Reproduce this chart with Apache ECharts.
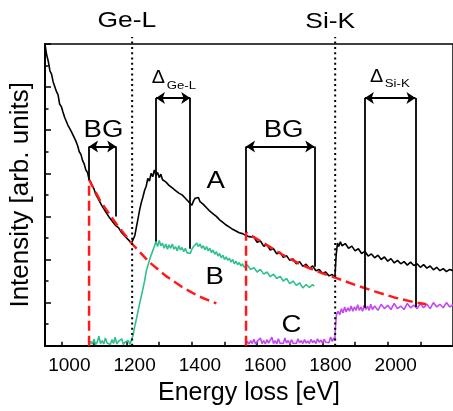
<!DOCTYPE html>
<html>
<head>
<meta charset="utf-8">
<script src="https://cdn.jsdelivr.net/npm/echarts@6/dist/echarts.min.js"></script>
<style>html,body{margin:0;padding:0;background:#fff;}#c{width:453px;height:411px;}</style>
</head>
<body>
<div id="c"></div>
<script>
// ---- data (energy loss [eV], intensity [arb. units]) ----
const xTickLabels = [1000, 1200, 1400, 1600, 1800, 2000];
const xMinorTicks = [1000, 1100, 1200, 1300, 1400, 1500, 1600, 1700, 1800, 1900, 2000, 2100];
const edgeGeL = 1217;
const edgeSiK = 1839;

const spectrumA = [[950,7.0],[955,6.75],[960,6.6],[965,6.38],[970,6.3],[975,6.12],[980,6.08],[985,5.9],[990,5.82],[995,5.6],[1000,5.55],[1005,5.42],[1010,5.3],[1015,5.28],[1020,5.12],[1025,5.1],[1030,4.98],[1035,4.96],[1040,4.82],[1045,4.74],[1050,4.64],[1055,4.5],[1060,4.44],[1065,4.3],[1070,4.22],[1075,4.08],[1080,4.02],[1085,3.86],[1090,3.8],[1095,3.7],[1100,3.64],[1105,3.52],[1110,3.5],[1115,3.38],[1120,3.35],[1125,3.24],[1130,3.22],[1135,3.12],[1140,3.1],[1145,3.0],[1150,3.0],[1155,2.9],[1160,2.92],[1165,2.8],[1170,2.84],[1175,2.74],[1180,2.72],[1185,2.62],[1190,2.64],[1195,2.54],[1200,2.55],[1205,2.46],[1210,2.46],[1215,2.38],[1220,2.42],[1225,2.55],[1230,2.75],[1235,2.95],[1240,3.15],[1245,3.32],[1250,3.45],[1255,3.6],[1260,3.7],[1265,3.88],[1270,3.82],[1275,4.0],[1280,3.92],[1285,4.08],[1290,3.95],[1295,4.02],[1300,3.9],[1305,3.98],[1310,3.85],[1315,3.88],[1320,3.8],[1325,3.84],[1330,3.72],[1335,3.76],[1340,3.66],[1345,3.7],[1350,3.6],[1355,3.64],[1360,3.54],[1365,3.58],[1370,3.5],[1375,3.52],[1380,3.42],[1385,3.44],[1390,3.34],[1395,3.3],[1400,3.26],[1405,3.36],[1410,3.42],[1415,3.38],[1420,3.44],[1425,3.34],[1430,3.38],[1435,3.28],[1440,3.3],[1445,3.2],[1450,3.24],[1455,3.12],[1460,3.16],[1465,3.06],[1470,3.1],[1475,3.0],[1480,3.02],[1485,2.92],[1490,2.96],[1495,2.86],[1500,2.88],[1505,2.8],[1510,2.83],[1515,2.75],[1520,2.78],[1525,2.7],[1530,2.74],[1535,2.66],[1540,2.7],[1545,2.62],[1550,2.66],[1555,2.6],[1560,2.63],[1565,2.56],[1570,2.6],[1575,2.53],[1580,2.5],[1590,2.52],[1600,2.4],[1610,2.43],[1620,2.31],[1630,2.34],[1640,2.22],[1650,2.25],[1660,2.13],[1670,2.17],[1680,2.05],[1690,2.09],[1700,1.98],[1710,2.01],[1720,1.9],[1730,1.95],[1740,1.84],[1750,1.89],[1760,1.79],[1770,1.85],[1780,1.74],[1790,1.77],[1800,1.68],[1810,1.71],[1820,1.62],[1830,1.65],[1838,1.57],[1842,2.1],[1846,2.38],[1850,2.3],[1855,2.41],[1860,2.32],[1870,2.37],[1880,2.26],[1890,2.31],[1900,2.2],[1910,2.25],[1920,2.14],[1930,2.19],[1940,2.08],[1950,2.13],[1960,2.04],[1970,2.1],[1980,2.0],[1990,2.06],[2000,1.96],[2010,2.02],[2020,1.92],[2030,1.98],[2040,1.9],[2050,1.95],[2060,1.87],[2070,1.94],[2080,1.86],[2090,1.9],[2100,1.82],[2110,1.88],[2120,1.8],[2130,1.85],[2140,1.76],[2150,1.82],[2160,1.74],[2170,1.79],[2180,1.72],[2190,1.77],[2200,1.74]];

const spectrumB = [[1085,0.02],[1090,0.1],[1095,0.04],[1100,0.15],[1105,0.03],[1110,0.08],[1115,0.22],[1120,0.05],[1125,0.12],[1130,0.04],[1135,0.18],[1140,0.06],[1145,0.1],[1150,0.03],[1155,0.14],[1160,0.05],[1165,0.2],[1170,0.04],[1175,0.1],[1180,0.06],[1185,0.16],[1190,0.03],[1195,0.08],[1200,0.04],[1205,0.12],[1210,0.03],[1215,0.05],[1220,0.25],[1225,0.45],[1230,0.62],[1235,0.8],[1240,0.98],[1245,1.15],[1250,1.32],[1255,1.5],[1260,1.72],[1265,1.85],[1270,1.98],[1275,2.1],[1280,2.2],[1285,2.3],[1290,2.42],[1295,2.3],[1300,2.44],[1305,2.32],[1310,2.38],[1315,2.26],[1320,2.36],[1325,2.24],[1330,2.34],[1335,2.26],[1340,2.36],[1345,2.24],[1350,2.3],[1355,2.2],[1360,2.32],[1365,2.22],[1370,2.28],[1375,2.18],[1380,2.26],[1385,2.16],[1390,2.2],[1395,2.14],[1400,2.24],[1405,2.3],[1410,2.26],[1415,2.38],[1420,2.3],[1425,2.36],[1430,2.26],[1435,2.32],[1440,2.22],[1445,2.3],[1450,2.2],[1455,2.26],[1460,2.16],[1465,2.22],[1470,2.12],[1475,2.18],[1480,2.08],[1485,2.14],[1490,2.04],[1495,2.1],[1500,2.0],[1505,2.06],[1510,1.98],[1515,2.03],[1520,1.94],[1525,2.0],[1530,1.9],[1535,1.96],[1540,1.88],[1545,1.93],[1550,1.85],[1555,1.9],[1560,1.82],[1570,1.87],[1580,1.77],[1590,1.81],[1600,1.71],[1610,1.77],[1620,1.66],[1630,1.71],[1640,1.6],[1650,1.66],[1660,1.56],[1670,1.61],[1680,1.5],[1690,1.56],[1700,1.44],[1710,1.5],[1720,1.4],[1730,1.46],[1740,1.34],[1750,1.42],[1760,1.35],[1770,1.42],[1775,1.38]];

const spectrumC = [[1566,0.03],[1570,0.1],[1575,0.04],[1580,0.12],[1585,0.05],[1590,0.15],[1595,0.04],[1600,0.1],[1605,0.06],[1610,0.18],[1615,0.05],[1620,0.12],[1625,0.04],[1630,0.14],[1635,0.06],[1640,0.1],[1645,0.2],[1650,0.05],[1655,0.12],[1660,0.04],[1665,0.16],[1670,0.06],[1675,0.1],[1680,0.05],[1685,0.18],[1690,0.06],[1695,0.12],[1700,0.04],[1705,0.14],[1710,0.06],[1715,0.1],[1720,0.05],[1725,0.16],[1730,0.07],[1735,0.12],[1740,0.05],[1745,0.14],[1750,0.06],[1755,0.11],[1760,0.05],[1765,0.15],[1770,0.07],[1775,0.12],[1780,0.05],[1785,0.16],[1790,0.08],[1795,0.13],[1800,0.06],[1805,0.15],[1810,0.08],[1815,0.12],[1820,0.07],[1825,0.2],[1830,0.1],[1835,0.18],[1838,0.12],[1840,0.45],[1843,0.72],[1848,0.8],[1853,0.72],[1858,0.86],[1863,0.76],[1868,0.9],[1873,0.78],[1878,0.88],[1883,0.8],[1888,0.92],[1893,0.8],[1898,0.9],[1903,0.82],[1908,0.95],[1913,0.82],[1918,0.9],[1923,0.8],[1928,0.94],[1933,0.84],[1938,0.92],[1943,0.82],[1948,0.96],[1953,0.84],[1960,0.92],[1970,0.82],[1980,0.96],[1990,0.86],[2000,0.94],[2010,0.84],[2020,0.98],[2030,0.86],[2040,0.92],[2050,0.84],[2060,0.98],[2070,0.88],[2080,0.94],[2090,0.86],[2100,0.98],[2110,0.88],[2120,0.96],[2130,0.86],[2140,1.0],[2150,0.9],[2160,0.96],[2170,0.88],[2180,1.0],[2190,0.9],[2200,0.95]];

const backgroundGe = [[1085,0],[1085,3.85],[1120,3.35],[1168,2.83],[1217,2.36],[1268,1.95],[1320,1.62],[1370,1.36],[1420,1.15],[1475,0.98]];
const backgroundSi = [[1566,0],[1566,2.63],[1620,2.38],[1680,2.1],[1740,1.86],[1800,1.68],[1839,1.58],[1900,1.41],[1960,1.26],[2020,1.12],[2080,1.01],[2118,0.96]];

// window brackets: [left E, right E, arrow level, left bottom, right bottom]
const windowBG1 = [1085, 1168, 4.62, 3.85, 3.0];
const windowGe  = [1290, 1395, 5.75, 2.42, 2.25];
const windowBG2 = [1566, 1775, 4.62, 2.63, 1.83];
const windowSi  = [1930, 2085, 5.75, 0.88, 0.9];
const edgeLineTop = 7.16;

const FONT = '"Liberation Sans", Arial, Helvetica, sans-serif';

const brackets = [windowBG1, windowGe, windowBG2, windowSi];
const verticals = [];
const arrows = [];
brackets.forEach(w => {
  verticals.push({coords: [[w[0], w[3]], [w[0], w[2]]]});
  verticals.push({coords: [[w[1], w[4]], [w[1], w[2]]]});
  arrows.push({coords: [[w[0], w[2]], [w[1], w[2]]]});
});

const chart = echarts.init(document.getElementById('c'), null, {renderer: 'canvas'});

const option = {
  animation: false,
  backgroundColor: '#fff',
  grid: {left: 45, top: 44, width: 412, height: 301.7, show: true, borderColor: '#000', borderWidth: 1.5, backgroundColor: 'transparent'},
  xAxis: {
    type: 'value', min: 950, max: 2200,
    name: 'Energy loss [eV]', nameLocation: 'middle', nameGap: 35,
    nameTextStyle: {fontFamily: FONT, fontSize: 25, color: '#000'},
    axisLine: {show: true, onZero: false, lineStyle: {color: '#000', width: 2}},
    axisTick: {show: true, inside: true, length: 4, customValues: xMinorTicks, lineStyle: {color: '#000', width: 1.5}},
    axisLabel: {show: true, customValues: xTickLabels, formatter: v => String(v), margin: 11, fontFamily: FONT, fontSize: 19, color: '#000', padding: [0, 0, 0, 16]},
    splitLine: {show: false}
  },
  yAxis: {
    type: 'value', min: 0, max: 7, interval: 1,
    name: 'Intensity [arb. units]', nameLocation: 'middle', nameGap: 11,
    nameTextStyle: {fontFamily: FONT, fontSize: 26, color: '#000'},
    axisLine: {show: true, lineStyle: {color: '#000', width: 2}},
    axisTick: {show: true, inside: true, length: 6, lineStyle: {color: '#000', width: 1.5}},
    minorTick: {show: true, splitNumber: 2, length: 3.5, lineStyle: {color: '#000', width: 1.5}},
    axisLabel: {show: false},
    splitLine: {show: false}
  },
  series: [
    {name: 'A', type: 'line', data: spectrumA, showSymbol: false, symbol: 'none', lineStyle: {color: '#000', width: 1.6}, z: 3},
    {name: 'B', type: 'line', data: spectrumB, showSymbol: false, symbol: 'none', lineStyle: {color: '#30c08c', width: 1.6}, z: 3},
    {name: 'C', type: 'line', data: spectrumC, showSymbol: false, symbol: 'none', lineStyle: {color: '#c448f0', width: 1.6}, z: 3},
    {name: 'bgGe', type: 'line', data: backgroundGe, showSymbol: false, symbol: 'none', lineStyle: {color: '#ff1a1a', width: 2.5, type: [10, 5]}, z: 4},
    {name: 'bgSi', type: 'line', data: backgroundSi, showSymbol: false, symbol: 'none', lineStyle: {color: '#ff1a1a', width: 2.5, type: [10, 5]}, z: 4},
    {name: 'edgeGe', type: 'line', clip: false, data: [[edgeGeL, 0], [edgeGeL, edgeLineTop]], showSymbol: false, symbol: 'none', lineStyle: {color: '#000', width: 2, type: [2, 3.3]}, z: 5},
    {name: 'edgeSi', type: 'line', clip: false, data: [[edgeSiK, 0], [edgeSiK, edgeLineTop]], showSymbol: false, symbol: 'none', lineStyle: {color: '#000', width: 2, type: [2, 3.3]}, z: 5},
    {name: 'verticals', type: 'lines', coordinateSystem: 'cartesian2d', data: verticals, symbol: 'none', lineStyle: {color: '#000', width: 1.8, opacity: 1}, z: 6},
    {name: 'arrows', type: 'lines', coordinateSystem: 'cartesian2d', data: arrows, symbol: ['arrow', 'arrow'], symbolSize: 9, lineStyle: {color: '#000', width: 1.8, opacity: 1}, itemStyle: {color: '#000'}, z: 6}
  ]
};
chart.setOption(option);

// text annotations placed at data coordinates
const annotations = [
  {text: 'Ge-L', x: 1201, y: 7.53, size: 22},
  {text: 'Si-K', x: 1824, y: 7.51, size: 22},
  {text: 'BG', x: 1129, y: 5.0, size: 23},
  {text: 'BG', x: 1681, y: 5.0, size: 23},
  {text: 'A', x: 1473, y: 3.81, size: 23},
  {text: 'B', x: 1470, y: 1.57, size: 23},
  {text: 'C', x: 1705, y: 0.46, size: 23},
  {text: 'Δ', x: 1297, y: 6.2, size: 18},
  {text: 'Ge-L', x: 1323, y: 6.03, size: 11, align: 'left'},
  {text: 'Δ', x: 1966, y: 6.24, size: 18},
  {text: 'Si-K', x: 1991, y: 6.07, size: 11, align: 'left'}
];
const graphics = annotations.map(a => {
  const p = chart.convertToPixel({gridIndex: 0}, [a.x, a.y]);
  return {
    type: 'text', x: p[0], y: p[1], scaleX: a.text === 'Δ' ? 1.1 : 1.2, z: 10,
    style: {text: a.text, fill: '#000', fontSize: a.size, fontFamily: FONT,
            align: a.align || 'center', verticalAlign: 'middle'}
  };
});
chart.setOption({graphic: graphics});
</script>
</body>
</html>
